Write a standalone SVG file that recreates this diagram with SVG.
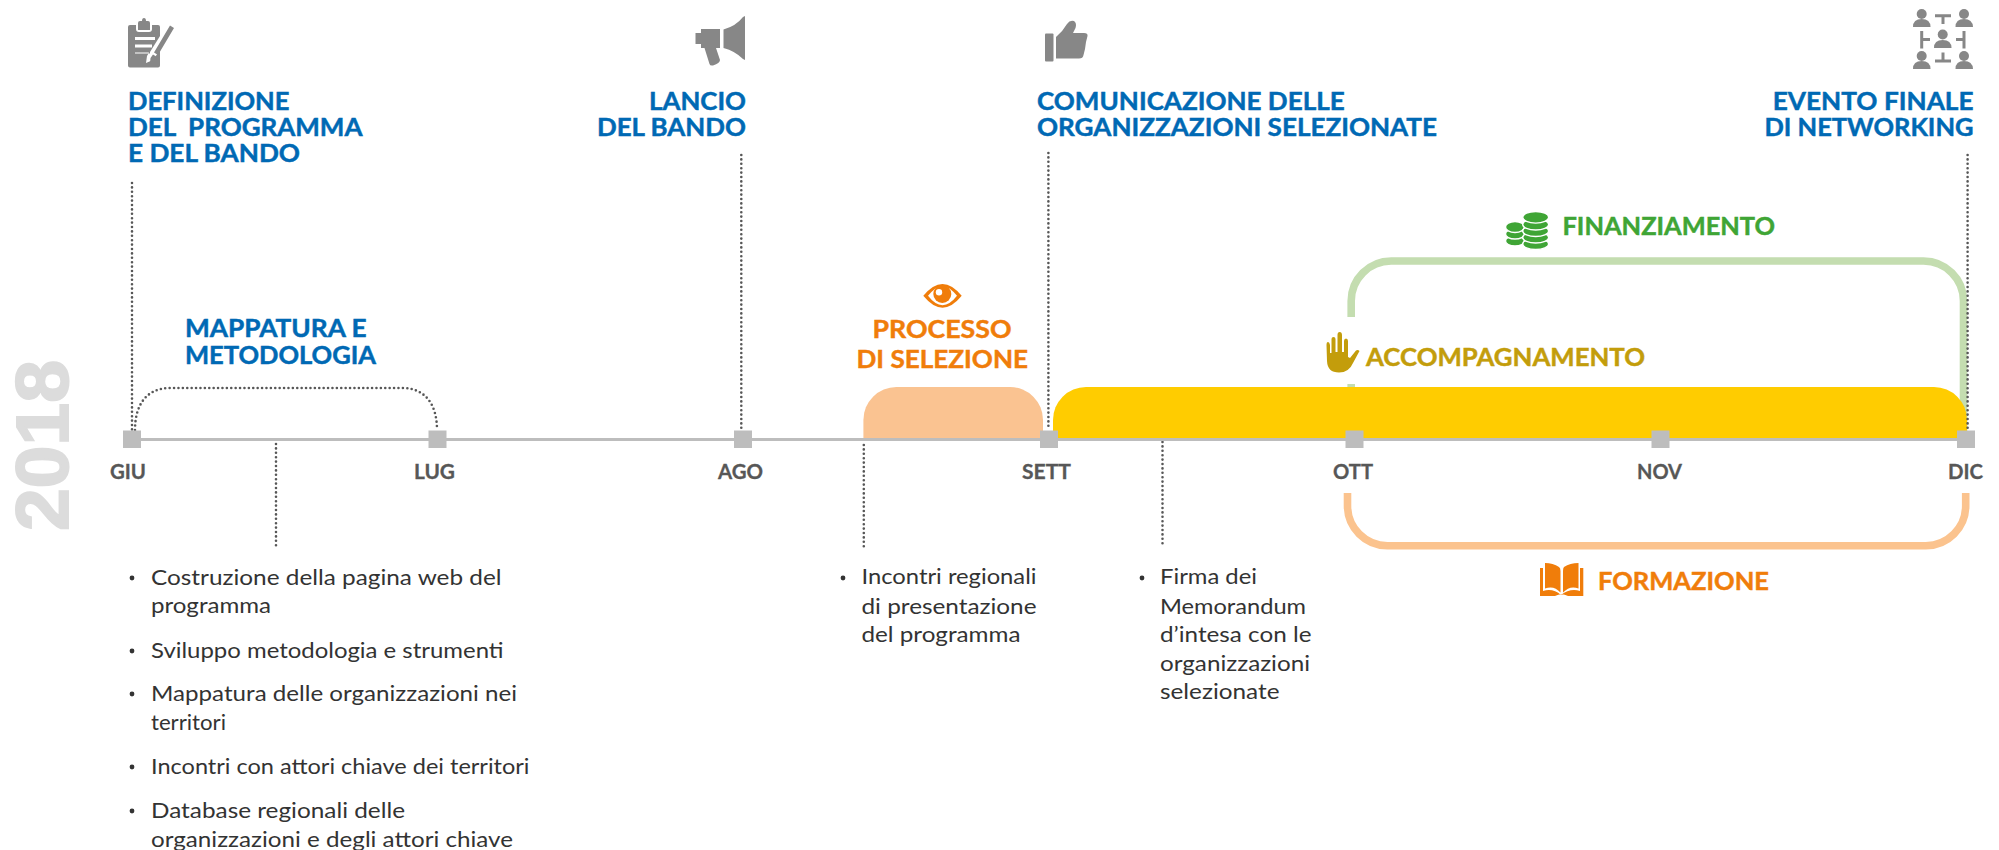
<svg xmlns="http://www.w3.org/2000/svg" width="1999" height="850" viewBox="0 0 1999 850">
<style>
text{font-family:"Lato","Liberation Sans",sans-serif}
.t,.o,.g,.y{font-weight:700;font-size:24.5px;stroke-width:.45px}
.t{fill:#0069b4;stroke:#0069b4}
.o{fill:#f07d0a;stroke:#f07d0a}
.g{fill:#3fa535;stroke:#3fa535}
.y{fill:#c39d0b;stroke:#c39d0b}
.m{font-weight:700;font-size:20px;fill:#575757;stroke:#575757;stroke-width:.3px}
.l{font-size:21.5px;fill:#333}
.dot{fill:none;stroke:#575757;stroke-width:2.6;stroke-linecap:round;stroke-dasharray:0 4.4}
.sq{fill:#bdbdbd}
.ic{fill:#878787}
.ics{fill:none;stroke:#878787;stroke-width:3}
.b{fill:#333}
</style>
<rect width="1999" height="850" fill="#fff"/>
<text id="year" transform="translate(68 531) rotate(-90)" style="font-family:'Liberation Sans',sans-serif" font-size="75" font-weight="700" fill="#dcdcdc" stroke="#dcdcdc" stroke-width="2" textLength="171" lengthAdjust="spacingAndGlyphs">2018</text>

<g id="bars">
<path d="M1351.2 317V301a40 40 0 0 1 40-40H1923.5a40 40 0 0 1 40 40V440" fill="none" stroke="#c4ddb0" stroke-width="7.6"/>
<path d="M1351.2 384V392" fill="none" stroke="#c4ddb0" stroke-width="7.6"/>
<path d="M1347.5 493V505.7a40 40 0 0 0 40 40H1925.7a40 40 0 0 0 40-40V493" fill="none" stroke="#fbc38e" stroke-width="7.6"/>
<path id="selezione-bar" d="M863.4 439V420a33 33 0 0 1 33-33H1010a33 33 0 0 1 33 33V439Z" fill="#fac391"/>
<path id="accompagnamento-bar" d="M1053 439V420a33 33 0 0 1 33-33H1934a33 33 0 0 1 33 33V439Z" fill="#fc0"/>
</g>

<g id="connectors">
<path class="dot" d="M132 183V430"/>
<path class="dot" d="M741.3 155V430"/>
<path class="dot" d="M1048.4 153V430"/>
<path class="dot" d="M1967.6 155V430"/>
<path class="dot" d="M276 444V547"/>
<path class="dot" d="M863.8 445V547"/>
<path class="dot" d="M1162.5 442V547"/>
<path class="dot" d="M135 430C135 403 148 388 170 388H402C425 388 437 404 437 430"/>
</g>

<g id="timeline">
<path d="M132 439.5H1966" stroke="#bdbdbd" stroke-width="3"/>
</g>

<g id="giu"><rect class="sq" x="123" y="430.5" width="18" height="17.5"/><text class="m" x="110" y="479" textLength="36" lengthAdjust="spacingAndGlyphs">GIU</text></g>
<g id="lug"><rect class="sq" x="428.5" y="430.5" width="18" height="17.5"/><text class="m" x="414" y="479" textLength="41" lengthAdjust="spacingAndGlyphs">LUG</text></g>
<g id="ago"><rect class="sq" x="734" y="430.5" width="18" height="17.5"/><text class="m" x="718" y="479" textLength="45" lengthAdjust="spacingAndGlyphs">AGO</text></g>
<g id="sett"><rect class="sq" x="1040" y="430.5" width="18" height="17.5"/><text class="m" x="1022" y="479" textLength="49" lengthAdjust="spacingAndGlyphs">SETT</text></g>
<g id="ott"><rect class="sq" x="1345.5" y="430.5" width="18" height="17.5"/><text class="m" x="1333" y="479" textLength="40" lengthAdjust="spacingAndGlyphs">OTT</text></g>
<g id="nov"><rect class="sq" x="1651.5" y="430.5" width="18" height="17.5"/><text class="m" x="1637" y="479" textLength="45" lengthAdjust="spacingAndGlyphs">NOV</text></g>
<g id="dic"><rect class="sq" x="1957" y="430.5" width="18" height="17.5"/><text class="m" x="1948" y="479" textLength="35" lengthAdjust="spacingAndGlyphs">DIC</text></g>

<g id="definizione">
<path class="ic" fill-rule="evenodd" d="M130 25H136V29Q136 32 139 32H149Q152 32 152 29V25H158Q160 25 160 27V36L150 52V53.5H135V52.5H149L147 56 146 63 153 60 160 50V65.5Q160 67.5 158 67.5H130Q128 67.5 128 65.5V27Q128 25 130 25ZM135 37V40H155V37ZM135 44.5V47.5H152V44.5Z"/>
<path class="ic" d="M138 30V23Q138 21 140 21H142Q142 18 144 18T146 21H148Q150 21 150 23V30Z"/>
<path class="ic" d="M170 25.5L174 28 158 55 154 52.5ZM153 54.5L157 57 156 60 150 63 150.5 58Z"/>
</g>
<g id="lancio">
<path class="ic" d="M723.5 29.5Q736 26 743 17L745 16V60L743 59Q735 51 723.5 48Z"/>
<path class="ic" d="M701 29H720V48H716L720 60Q720 63 713 65.5 710 66 709.5 64L704.5 48H701V44H695.5V33H701Z"/>
</g>
<g id="comunicazione">
<rect class="ic" x="1045" y="33.5" width="8.5" height="28" rx="1"/>
<path class="ic" d="M1056 37Q1063 31 1067 24 1070 19.500 1074 21 1077 23 1075.500 28L1073 33H1084Q1088 33 1087.500 36L1086 42 1085 49 1083.500 55Q1083 58.500 1079 58.500H1056Z"/>
</g>
<g id="evento">
<g class="ic">
<circle cx="1921.700" cy="14" r="5"/><path d="M1913 27Q1913 19 1921.700 19T1930.500 27Z"/>
<circle cx="1964" cy="14" r="5"/><path d="M1955.500 27Q1955.500 19 1964 19T1973 27Z"/>
<circle cx="1942.700" cy="34.500" r="5"/><path d="M1934 48Q1934 40 1942.700 40T1951.500 48Z"/>
<circle cx="1921.700" cy="56" r="5"/><path d="M1913 69Q1913 61 1921.700 61T1930.500 69Z"/>
<circle cx="1964" cy="56" r="5"/><path d="M1955.500 69Q1955.500 61 1964 61T1973 69Z"/>
</g>
<path class="ics" d="M1935 15.700H1951M1943 15.700V24M1921.700 31V48.500M1921.700 39.500H1930M1964 31V48.500M1964 39.500H1956M1935 61H1951M1943 61V52.500"/>
</g>

<g id="titolo-definizione">
<text class="t" x="128" y="109.500" textLength="161.500" lengthAdjust="spacingAndGlyphs">DEFINIZIONE</text>
<text class="t" x="128" y="135.900" textLength="234.500" lengthAdjust="spacingAndGlyphs" xml:space="preserve">DEL  PROGRAMMA</text>
<text class="t" x="128" y="162.200" textLength="172" lengthAdjust="spacingAndGlyphs">E DEL BANDO</text>
</g>
<g id="titolo-lancio">
<text class="t" x="649" y="109.500" textLength="97" lengthAdjust="spacingAndGlyphs">LANCIO</text>
<text class="t" x="597" y="135.900" textLength="149" lengthAdjust="spacingAndGlyphs">DEL BANDO</text>
</g>
<g id="titolo-comunicazione">
<text class="t" x="1037" y="109.500" textLength="307.700" lengthAdjust="spacingAndGlyphs">COMUNICAZIONE DELLE</text>
<text class="t" x="1037" y="135.900" textLength="400" lengthAdjust="spacingAndGlyphs">ORGANIZZAZIONI SELEZIONATE</text>
</g>
<g id="titolo-evento">
<text class="t" x="1772.800" y="109.500" textLength="200.700" lengthAdjust="spacingAndGlyphs">EVENTO FINALE</text>
<text class="t" x="1764.500" y="135.900" textLength="209" lengthAdjust="spacingAndGlyphs">DI NETWORKING</text>
</g>
<g id="mappatura">
<text class="t" x="185" y="337.200" textLength="181.500" lengthAdjust="spacingAndGlyphs">MAPPATURA E</text>
<text class="t" x="185" y="364.200" textLength="191" lengthAdjust="spacingAndGlyphs">METODOLOGIA</text>
</g>

<g id="processo">
<path d="M923.300 295.800Q942.500 272 961.700 295.800 942.500 319.500 923.300 295.800Z" fill="#f07d0a"/>
<path d="M928 295.800Q942.500 277 957 295.800 942.500 314.500 928 295.800Z" fill="#fff"/>
<circle cx="942.300" cy="294" r="9" fill="#f07d0a"/>
<circle cx="939" cy="292.300" r="3.200" fill="#fff"/>
<text class="o" x="872.500" y="337.900" textLength="139" lengthAdjust="spacingAndGlyphs">PROCESSO</text>
<text class="o" x="856.500" y="367.900" textLength="171.500" lengthAdjust="spacingAndGlyphs">DI SELEZIONE</text>
</g>

<g id="finanziamento">
<g fill="#3fa535" stroke="#fff" stroke-width="1.400">
<ellipse cx="1515" cy="241" rx="9.500" ry="5"/>
<ellipse cx="1515" cy="234" rx="9.500" ry="5"/>
<ellipse cx="1515" cy="227" rx="9.500" ry="5.500"/>
<ellipse cx="1535.700" cy="244" rx="13" ry="5.500"/>
<ellipse cx="1535.700" cy="237.500" rx="13" ry="5.500"/>
<ellipse cx="1535.700" cy="231" rx="13" ry="5.500"/>
<ellipse cx="1535.700" cy="224.500" rx="13" ry="5.500"/>
<ellipse cx="1535.700" cy="217.300" rx="13" ry="5.800"/>
</g>
<text class="g" x="1562.500" y="234.700" textLength="212.500" lengthAdjust="spacingAndGlyphs">FINANZIAMENTO</text>
</g>

<g id="accompagnamento">
<path fill="#c39d0b" d="M1326.500 345Q1326.500 342 1328 342T1330 345V353H1331.500V339Q1331.500 337 1333.500 337T1335.500 339V352H1337.500V335Q1337.500 332 1339.700 332T1342 335V352H1344V341Q1344 338.500 1346 338.500T1348 341V357L1350 358 1356 350.500Q1358 349.500 1359.500 351L1353 363Q1349 372.500 1339 372.500 1327.500 372.500 1327 361Z"/>
<text class="y" x="1366" y="365.700" textLength="279" lengthAdjust="spacingAndGlyphs">ACCOMPAGNAMENTO</text>
</g>

<g id="formazione">
<path fill="#f07d0a" d="M1545 563Q1553 563 1559 567 1560.500 568 1560.500 571V592.500Q1554 585 1545 588.500ZM1578.500 563Q1570 563 1564 567 1563 568 1563 571V592.500Q1570 585 1578.500 588.500Z"/>
<path fill="#f07d0a" d="M1540 568H1543V591Q1553 588 1561 595 1570 588 1580 591V568H1583.300V596H1568Q1561.500 592.500 1555 596H1540Z"/>
<text class="o" x="1598" y="589.700" textLength="171" lengthAdjust="spacingAndGlyphs">FORMAZIONE</text>
</g>

<g id="lista-mappatura">
<circle class="b" cx="132" cy="578" r="2.400"/>
<text class="l" x="151" y="585" textLength="350.500" lengthAdjust="spacingAndGlyphs">Costruzione della pagina web del</text>
<text class="l" x="151" y="613" textLength="120" lengthAdjust="spacingAndGlyphs">programma</text>
<circle class="b" cx="132" cy="651" r="2.400"/>
<text class="l" x="151" y="658" textLength="352.600" lengthAdjust="spacingAndGlyphs">Sviluppo metodologia e strumenti</text>
<circle class="b" cx="132" cy="694" r="2.400"/>
<text class="l" x="151" y="701" textLength="366" lengthAdjust="spacingAndGlyphs">Mappatura delle organizzazioni nei</text>
<text class="l" x="151" y="730" textLength="75" lengthAdjust="spacingAndGlyphs">territori</text>
<circle class="b" cx="132" cy="767" r="2.400"/>
<text class="l" x="151" y="774" textLength="378.500" lengthAdjust="spacingAndGlyphs">Incontri con attori chiave dei territori</text>
<circle class="b" cx="132" cy="811" r="2.400"/>
<text class="l" x="151" y="818" textLength="254" lengthAdjust="spacingAndGlyphs">Database regionali delle</text>
<text class="l" x="151" y="847" textLength="362" lengthAdjust="spacingAndGlyphs">organizzazioni e degli attori chiave</text>
</g>
<g id="lista-incontri">
<circle class="b" cx="843" cy="578" r="2.400"/>
<text class="l" x="861.500" y="584" textLength="175" lengthAdjust="spacingAndGlyphs">Incontri regionali</text>
<text class="l" x="861.500" y="613.700" textLength="175" lengthAdjust="spacingAndGlyphs">di presentazione</text>
<text class="l" x="861.500" y="641.700" textLength="159" lengthAdjust="spacingAndGlyphs">del programma</text>
</g>
<g id="lista-firma">
<circle class="b" cx="1142" cy="578" r="2.400"/>
<text class="l" x="1160" y="584" textLength="97" lengthAdjust="spacingAndGlyphs">Firma dei</text>
<text class="l" x="1160" y="613.700" textLength="146" lengthAdjust="spacingAndGlyphs">Memorandum</text>
<text class="l" x="1160" y="641.700" textLength="151.500" lengthAdjust="spacingAndGlyphs">d’intesa con le</text>
<text class="l" x="1160" y="670.500" textLength="150" lengthAdjust="spacingAndGlyphs">organizzazioni</text>
<text class="l" x="1160" y="699" textLength="119.500" lengthAdjust="spacingAndGlyphs">selezionate</text>
</g>
</svg>
